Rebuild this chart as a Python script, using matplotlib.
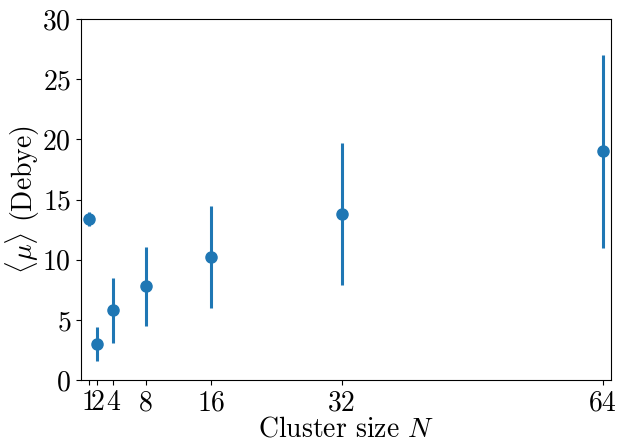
import matplotlib
matplotlib.use("Agg")
import matplotlib.pyplot as plt

# =====================================================
# Data
# =====================================================

cluster_size = [1, 2, 4, 8, 16, 32, 64]
mean_dipole = [13.4, 3.0, 5.8, 7.8, 10.2, 13.8, 19.0]
dipole_err = [0.6, 1.4, 2.7, 3.3, 4.25, 5.9, 8.0]

# =====================================================
# Style
# =====================================================

plt.rcParams["font.family"] = "serif"
plt.rcParams["font.serif"] = ["cmr10"]
plt.rcParams["mathtext.fontset"] = "cm"
plt.rcParams["axes.formatter.use_mathtext"] = True
plt.rcParams["axes.unicode_minus"] = False

# =====================================================
# Plot
# =====================================================

fig, ax = plt.subplots(figsize=(6.17, 4.43), dpi=100)

ax.errorbar(
    cluster_size,
    mean_dipole,
    yerr=dipole_err,
    fmt="o",
    color="#1f77b4",
    markersize=8,
    elinewidth=2.2,
)

ax.set_xlim(0, 65)
ax.set_ylim(0, 30)
ax.set_xticks(cluster_size)
ax.set_xticklabels([str(n) for n in cluster_size])

ax.tick_params(labelsize=20)
ax.set_xlabel(r"Cluster size $N$", fontsize=20, labelpad=0)
ax.set_ylabel(r"$\langle\mu\rangle$ (Debye)", fontsize=20, labelpad=0)

fig.subplots_adjust(left=0.131, right=0.99, top=0.957, bottom=0.142)

fig.savefig("out.png", dpi=100)
